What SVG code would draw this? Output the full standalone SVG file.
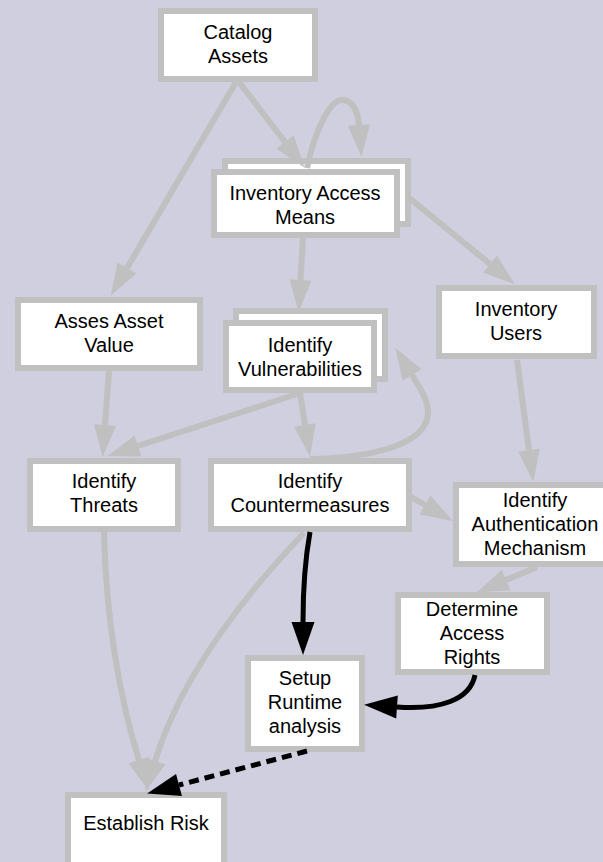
<svg xmlns="http://www.w3.org/2000/svg" width="603" height="862" viewBox="0 0 603 862">
  <style>
    .box { fill: #ffffff; stroke: #c0c0c0; stroke-width: 6; }
    .lbl { font-family: "Liberation Sans", Arial, sans-serif; font-size: 20px; fill: #000000; text-anchor: middle; }
    .edge { fill: none; stroke: #c0c0c0; stroke-width: 6; marker-end: url(#arrowGray); }
    .flow { fill: none; stroke: #000000; stroke-width: 5; marker-end: url(#arrowBlack); }
    .dash { stroke-dasharray: 10 6; }
  </style>
  <defs>
    <marker id="arrowGray" markerUnits="userSpaceOnUse" markerWidth="32" markerHeight="22" refX="0" refY="11" orient="auto" overflow="visible">
      <path d="M0,0 L32,11 L0,22 Z" fill="#c0c0c0"/>
    </marker>
    <marker id="arrowBlack" markerUnits="userSpaceOnUse" markerWidth="33" markerHeight="23" refX="0" refY="11.5" orient="auto" overflow="visible">
      <path d="M0,0 L33,11.5 L0,23 Z" fill="#000000"/>
    </marker>
  </defs>

  <rect x="0" y="0" width="603" height="862" fill="#cfcfe0"/>

  <g id="catalog-assets">
    <rect class="box" x="161" y="11" width="154" height="68"/>
    <text class="lbl" x="238" y="39">Catalog</text>
    <text class="lbl" x="238" y="63">Assets</text>
  </g>

  <g id="inventory-access-means">
    <rect class="box" x="225" y="161" width="183" height="63"/>
    <rect class="box" x="214" y="172" width="183" height="63"/>
    <text class="lbl" x="305" y="200">Inventory Access</text>
    <text class="lbl" x="305" y="224">Means</text>
  </g>

  <g id="asses-asset-value">
    <rect class="box" x="18" y="300" width="182" height="68"/>
    <text class="lbl" x="109" y="328">Asses Asset</text>
    <text class="lbl" x="109" y="352">Value</text>
  </g>

  <g id="identify-vulnerabilities">
    <rect class="box" x="236" y="311" width="149" height="68"/>
    <rect class="box" x="226" y="323" width="148" height="67"/>
    <text class="lbl" x="300" y="352">Identify</text>
    <text class="lbl" x="300" y="376">Vulnerabilities</text>
  </g>

  <g id="inventory-users">
    <rect class="box" x="439" y="288" width="155" height="68"/>
    <text class="lbl" x="516" y="316">Inventory</text>
    <text class="lbl" x="516" y="340">Users</text>
  </g>

  <g id="identify-threats">
    <rect class="box" x="30" y="461" width="148" height="68"/>
    <text class="lbl" x="104" y="488">Identify</text>
    <text class="lbl" x="104" y="512">Threats</text>
  </g>

  <g id="identify-countermeasures">
    <rect class="box" x="211" y="461" width="198" height="68"/>
    <text class="lbl" x="310" y="488">Identify</text>
    <text class="lbl" x="310" y="512">Countermeasures</text>
  </g>

  <g id="identify-authentication-mechanism">
    <rect class="box" x="456" y="485" width="158" height="79"/>
    <text class="lbl" x="535" y="507">Identify</text>
    <text class="lbl" x="535" y="531">Authentication</text>
    <text class="lbl" x="535" y="555">Mechanism</text>
  </g>

  <g id="determine-access-rights">
    <rect class="box" x="398" y="595" width="149" height="77"/>
    <text class="lbl" x="472" y="616">Determine</text>
    <text class="lbl" x="472" y="640">Access</text>
    <text class="lbl" x="472" y="664">Rights</text>
  </g>

  <g id="setup-runtime-analysis">
    <rect class="box" x="248" y="658" width="114" height="91"/>
    <text class="lbl" x="305" y="685">Setup</text>
    <text class="lbl" x="305" y="709">Runtime</text>
    <text class="lbl" x="305" y="733">analysis</text>
  </g>

  <g id="establish-risk">
    <rect class="box" x="68" y="795" width="156" height="90"/>
    <text class="lbl" x="146" y="830">Establish Risk</text>
  </g>

  <g id="connectors">
    <path class="edge" d="M236,82 L127,268"/>
    <path class="edge" d="M239,82 L285,142"/>
    <path class="edge" d="M307,168 C315,130 330,100 342,100 C353,100 358,112 359,125"/>
    <path class="edge" d="M303,238 L300.5,280"/>
    <path class="edge" d="M408,197 L490,264"/>
    <path class="edge" d="M109,371 L105,425"/>
    <path class="edge" d="M300,393 L138,446"/>
    <path class="edge" d="M300,393 L305,425"/>
    <path class="edge" d="M310,459 C370,458 428,445 428,412 C428,400 420,388 412,375"/>
    <path class="edge" d="M517,360 L529,450"/>
    <path class="edge" d="M411,497 L425,505"/>
    <path class="edge" d="M537,567 L506,580"/>
    <path class="edge" d="M104,532 C106,620 120,700 139,760"/>
    <path class="edge" d="M304,533 C240,600 180,680 155,761"/>
    <path class="flow" d="M310,532 C305,560 303,590 303,622"/>
    <path class="flow" d="M475,675 C470,700 440,710 397,707"/>
    <path class="flow dash" d="M307,751 L179,785"/>
  </g>
</svg>
